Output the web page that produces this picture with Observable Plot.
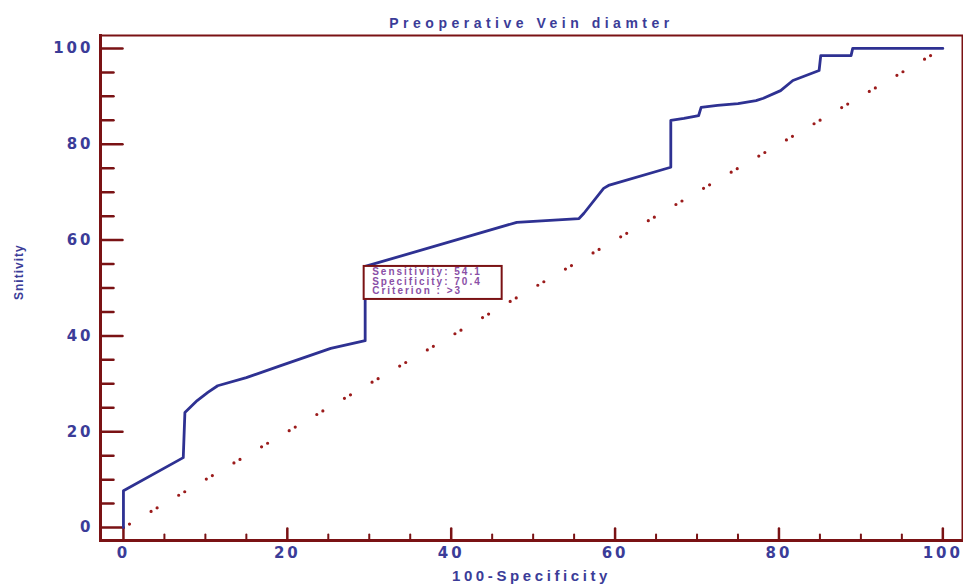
<!DOCTYPE html>
<html>
<head>
<meta charset="utf-8">
<script src="https://cdn.jsdelivr.net/npm/d3@7"></script>
<script src="https://cdn.jsdelivr.net/npm/@observablehq/plot@0.6"></script>
<style>
  html, body { margin: 0; padding: 0; background: #fff; }
  #chart svg { display: block; }
</style>
</head>
<body>
<div id="chart"></div>
<script>
// ROC curve: 100-Specificity (x) vs Sensitivity (y)
const fpr = [0, 0, 7.3, 7.5, 9, 10.3, 11.5, 15, 19.2, 25.3, 29.5, 29.5, 48, 55.6, 56.2, 58.6, 59.2, 66.8, 66.8, 68.4, 70.2, 70.5, 72.5, 75, 77.2, 78.1, 80.2, 81.7, 84.9, 85.1, 88.8, 89, 100];
const tpr = [0, 7.7, 14.6, 24, 26.5, 28.2, 29.6, 31.3, 33.8, 37.4, 39, 54.5, 63.7, 64.5, 65.6, 70.8, 71.4, 75.2, 85, 85.4, 86, 87.7, 88.1, 88.5, 89.1, 89.6, 91.2, 93.3, 95.4, 98.5, 98.5, 100, 100];
const diagX = [0, 100];
const diagY = [0, 100];
const majorTicks = [0, 20, 40, 60, 80, 100];
const minorTicks = [5, 10, 15, 25, 30, 35, 45, 50, 55, 65, 70, 75, 85, 90, 95];
const cutSensitivity = 54.5;
const cutSpecificity = 70.5;
const annotationLines = ["Sensitivity: 54.1", "Specificity: 70.4", "Criterion : >3"];
const titleText = "Preoperative Vein diamter";
const xTitle = "100-Specificity";
const yTitle = "Snitivity";

const roc = fpr.map((x, i) => ({x, y: tpr[i]}));
const diag = diagX.map((x, i) => ({x, y: diagY[i]}));
const cut = [{x: 100 - cutSpecificity, y: cutSensitivity, label: annotationLines.join("\n")}];

const frameColor = "#7a1214";
const textColor = "#3b3c98";
const curveColor = "#2e3192";

const tickShape = {draw(context, l) { context.moveTo(0, 0); context.lineTo(0, -l); }};

const chart = Plot.plot({
  width: 963,
  height: 587,
  marginLeft: 100,
  marginRight: 1,
  marginTop: 35,
  marginBottom: 47,
  style: {fontFamily: "'Liberation Sans', Arial, sans-serif", color: textColor, background: "#fff"},
  x: {domain: [-2.8, 102.4], ticks: majorTicks, tickSize: 0, tickPadding: 7, label: null, tickFormat: d => String(d)},
  y: {domain: [-2.7, 102.7], ticks: majorTicks, tickSize: 0, tickPadding: 7, label: null, tickFormat: d => String(d)},
  marks: [
    Plot.frame({stroke: frameColor, strokeWidth: 2}),
    Plot.frame({anchor: "left", stroke: frameColor, strokeWidth: 3}),
    Plot.frame({anchor: "bottom", stroke: frameColor, strokeWidth: 3}),
    // inward ticks
    Plot.vectorX(majorTicks, {x: d => d, frameAnchor: "bottom", length: 12, rotate: 0, anchor: "start", shape: tickShape, stroke: frameColor, strokeWidth: 2.5}),
    Plot.vectorX(minorTicks, {x: d => d, frameAnchor: "bottom", length: 6, rotate: 0, anchor: "start", shape: tickShape, stroke: frameColor, strokeWidth: 2}),
    Plot.vectorY(majorTicks, {y: d => d, frameAnchor: "left", length: 22, rotate: 90, anchor: "start", shape: tickShape, stroke: frameColor, strokeWidth: 2.5}),
    Plot.vectorY(minorTicks, {y: d => d, frameAnchor: "left", length: 13, rotate: 90, anchor: "start", shape: tickShape, stroke: frameColor, strokeWidth: 2.5}),
    // reference diagonal
    Plot.line(diag, {x: "x", y: "y", stroke: "#9b1b1b", strokeWidth: 3.2, strokeLinecap: "round", strokeDasharray: "0,7,0,25"}),
    // ROC curve
    Plot.line(roc, {x: "x", y: "y", stroke: curveColor, strokeWidth: 2.8, curve: "linear"}),
    // annotation box
    Plot.rect(cut, {x1: "x", x2: "x", y1: "y", y2: "y", insetLeft: -1, insetRight: -137, insetTop: 0, insetBottom: -33, fill: "#fff", stroke: frameColor, strokeWidth: 2}),
    Plot.text(cut, {x: "x", y: "y", text: "label", dx: 7, dy: 2, textAnchor: "start", lineAnchor: "top", lineHeight: 0.95, fontSize: 10, fontWeight: "bold", fill: "#8a4fa6"}),
    // titles
    Plot.text([titleText], {frameAnchor: "top", dy: -17, fontSize: 14, fontWeight: "bold", fill: textColor}),
    Plot.text([xTitle], {frameAnchor: "bottom", dy: 40, fontSize: 15, fontWeight: "bold", fill: textColor}),
    Plot.text([yTitle], {frameAnchor: "left", dx: -81, dy: 12, rotate: -90, fontSize: 12, fontWeight: "bold", fill: textColor})
  ]
});

document.getElementById("chart").appendChild(chart);

// wide letter spacing as in the reference
const svg = d3.select(chart);
svg.selectAll("g[aria-label='x-axis tick label'] text, g[aria-label='y-axis tick label'] text")
  .style("font-family", "'DejaVu Sans', sans-serif")
  .style("font-size", "15px").style("font-weight", "bold").style("letter-spacing", "3px");
svg.selectAll("g[aria-label='text'] text").each(function() {
  const t = d3.select(this);
  const txt = t.text();
  if (txt === titleText) t.style("letter-spacing", "4.5px");
  else if (txt === xTitle) t.style("letter-spacing", "3.6px");
  else if (txt === yTitle) t.style("letter-spacing", "1px");
  else t.style("letter-spacing", "2px");
});
</script>
</body>
</html>
